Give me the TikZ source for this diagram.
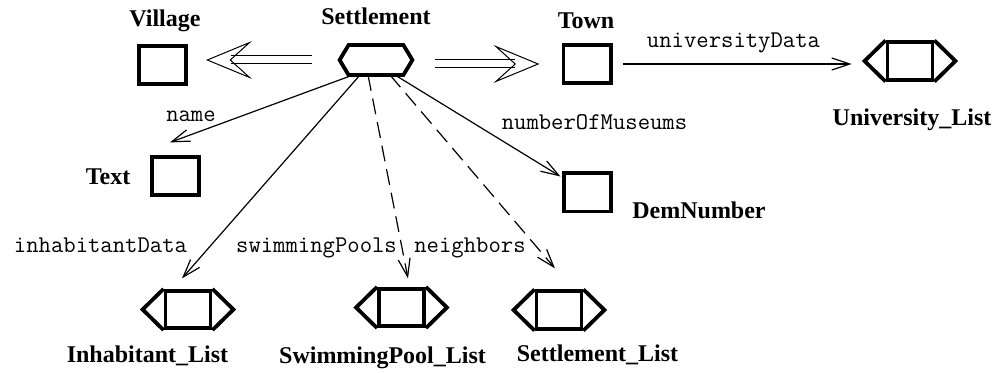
\documentclass[tikz,border=0pt]{standalone}
\usepackage{fontspec}
\setmainfont{Liberation Serif}
\usetikzlibrary{arrows.meta}

\tikzset{
  boxline/.style={line width=1.9pt, line join=miter},
  classbox/.style={draw, boxline, minimum width=23.6pt, minimum height=19.1pt, inner sep=0pt},
  listbox/.style={draw, boxline, minimum width=22.5pt, minimum height=18.7pt, inner sep=0pt},
  classname/.style={font=\fontsize{12}{14}\selectfont\bfseries, inner sep=0pt},
  rolename/.style={font=\fontsize{12}{14}\selectfont\ttfamily, inner sep=0pt},
  role/.style={line width=0.6pt, -{Straight Barb[length=9pt, width=6pt]}},
  dashedrole/.style={role, dash pattern=on 8pt off 4pt},
  inherit/.style={double, double distance=3.5pt, line width=0.5pt,
    -{Stealth[open, length=23pt, width=19pt, inset=10.5pt, line width=0.5pt]}}
}

\begin{document}
\begin{tikzpicture}[x=0.5pt, y=-0.5pt]
    \useasboundingbox (0,0) rectangle (998,373);
    % Classes
    \node[minimum width=27pt, minimum height=14.6pt, inner sep=0pt] (settlement) at (376,60) {};
    \draw[boxline] (settlement.north west) -- (settlement.north east) -- ([xshift=4.5pt]settlement.east)
        -- (settlement.south east) -- (settlement.south west) -- ([xshift=-4.5pt]settlement.west) -- cycle;
    \node[classbox] (village) at (162.5,65) {};
    \node[classbox] (town) at (587,64) {};
    \node[classbox] (textbox) at (175.5,176) {};
    \node[classbox] (demnum) at (587.5,192.5) {};
    % List types
    \node[listbox] (unilist) at (910,61) {};
    \node[listbox] (inhlist) at (188,309.5) {};
    \node[listbox] (poollist) at (401.5,307.5) {};
    \node[listbox] (setlist) at (559,310) {};
    \foreach \n in {unilist,inhlist,poollist,setlist}
      \draw[boxline] (\n.north west) -- ([xshift=-10.5pt]\n.west) -- (\n.south west)
                     (\n.north east) -- ([xshift=10.5pt]\n.east) -- (\n.south east);
    %
    % Class names:
    \node[classname] (settlementname) at (376,16) {Settlement};
    \node[classname] (villagename) at (165,20.5) {Village};
    \node[classname] (townname) at (586,21) {Town};
    \node[classname] (unilistname) at (912,119.5) {University\_List};
    \node[classname] (textname) at (108,177) {Text};
    \node[classname] (demnumname) at (699,210) {DemNumber};
    \node[classname] (inhlistname) at (147.5,356) {Inhabitant\_List};
    \node[classname] (poollistname) at (382.5,357.5) {SwimmingPool\_List};
    \node[classname] (setlistname) at (597.5,355) {Settlement\_List};
    %
    % Role names:
    \node[rolename] (unirole) at (733.5,43) {universityData};
    \node[rolename] (namerole) at (191,116) {name};
    \node[rolename] (museumrole) at (594.5,122) {numberOfMuseums};
    \node[rolename] (inhrole) at (100.5,245) {inhabitantData};
    \node[rolename] (poolrole) at (316.5,248) {swimmingPools};
    \node[rolename] (neighrole) at (470,247.5) {neighbors};
    %
    % Edges:
  \draw[inherit, shorten <=18.5pt, shorten >=9pt] (settlement.west) -- (settlement.west -| village.east);
  \draw[inherit, shorten <=16pt, shorten >=11pt] (settlement.east |- town.west) -- (town.west);
  \draw[role, shorten <=5pt, shorten >=17pt] (town.east) -- (town.east -| unilist.west);
  \draw[role] ([xshift=-11.5pt]settlement.south) -- ([shift={(-2.75pt,6.3pt)}]textbox.north);
  \draw[role] ([xshift=-8pt]settlement.south) -- ([shift={(-3pt,5.25pt)}]inhlist.north);
  \draw[dashedrole] ([xshift=-4pt]settlement.south) -- ([shift={(3.25pt,4.25pt)}]poollist.north);
  \draw[dashedrole] ([xshift=7pt]settlement.south) -- ([shift={(-2pt,10.5pt)}]setlist.north);
  \draw[role] ([xshift=9.5pt]settlement.south) -- ([shift={(-0.75pt,-2.5pt)}]demnum.north west);
\end{tikzpicture}
\end{document}
